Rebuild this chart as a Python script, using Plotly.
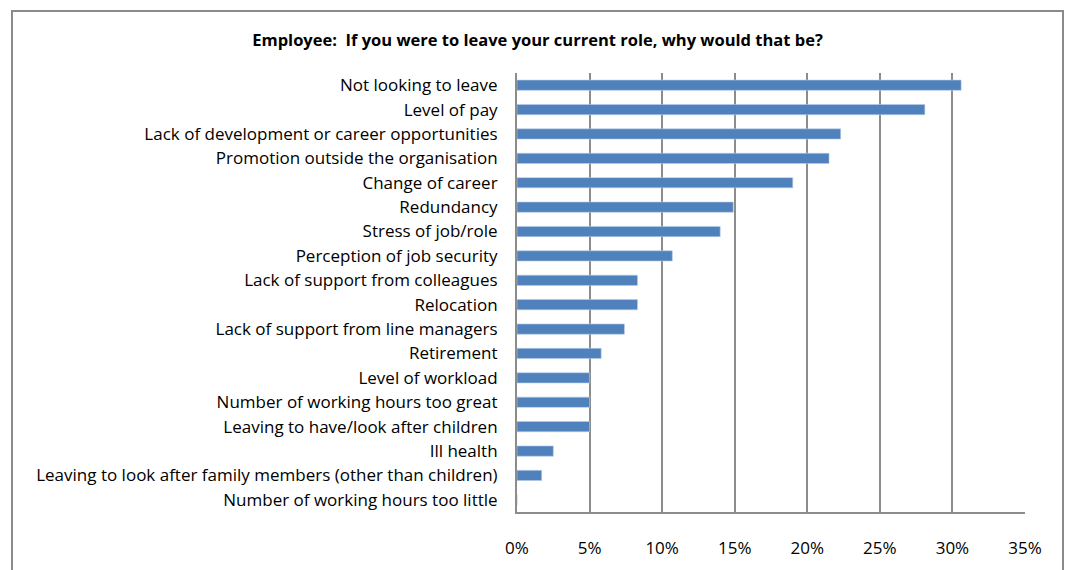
import plotly.graph_objects as go

# Survey responses (share of employees), listed top to bottom
reasons = [
    "Not looking to leave",
    "Level of pay",
    "Lack of development or career opportunities",
    "Promotion outside the organisation",
    "Change of career",
    "Redundancy",
    "Stress of job/role",
    "Perception of job security",
    "Lack of support from colleagues",
    "Relocation",
    "Lack of support from line managers",
    "Retirement",
    "Level of workload",
    "Number of working hours too great",
    "Leaving to have/look after children",
    "Ill health",
    "Leaving to look after family members (other than children)",
    "Number of working hours too little",
]
shares = [
    0.306, 0.281, 0.223, 0.215, 0.190, 0.149, 0.140, 0.107, 0.083,
    0.083, 0.074, 0.058, 0.050, 0.050, 0.050, 0.025, 0.017, 0.0,
]
x_ticks = [0, 0.05, 0.10, 0.15, 0.20, 0.25, 0.30, 0.35]
x_tick_text = ["0%", "5%", "10%", "15%", "20%", "25%", "30%", "35%"]

FONT = "'Open Sans', Lato, sans-serif"
GRID = "#8c8c8c"

fig = go.Figure(
    go.Bar(
        x=shares,
        y=reasons,
        orientation="h",
        marker=dict(color="#4f81bd", line=dict(color="#b9cde5", width=0.6)),
        hoverinfo="x+y",
    )
)

# Outer chart frame
W, H = 1068, 570
L, R, T, B = 517, 43, 73, 58
pw, ph = W - L - R, H - T - B


def px_x(p):
    return (p - L) / pw


def px_y(p):
    return (H - B - p) / ph


fig.add_shape(
    type="rect", xref="paper", yref="paper",
    x0=px_x(12), x1=px_x(1063), y0=px_y(580), y1=px_y(11),
    line=dict(color="#8a8a8a", width=2), fillcolor="rgba(0,0,0,0)", layer="below",
)

fig.update_layout(
    width=W,
    height=H,
    margin=dict(l=L, r=R, t=T, b=B),
    paper_bgcolor="white",
    plot_bgcolor="white",
    showlegend=False,
    bargap=0.58,
    title=dict(
        text="<b>Employee:  If you were to leave your current role, why would that be?</b>",
        x=(12 + 1063) / 2 / W,
        xanchor="center",
        y=1 - 40 / H,
        yanchor="middle",
        font=dict(family=FONT, size=16.5, color="#000000"),
    ),
    font=dict(family=FONT, size=17, color="#000000"),
)

fig.update_xaxes(
    range=[0, 0.35],
    tickvals=x_ticks,
    ticktext=x_tick_text,
    showgrid=True,
    gridcolor=GRID,
    gridwidth=1.5,
    showline=True,
    linecolor=GRID,
    linewidth=2,
    mirror=False,
    zeroline=False,
    ticks="",
    ticklabelstandoff=20,
    tickfont=dict(family=FONT, size=17),
    fixedrange=True,
)
fig.update_yaxes(
    categoryorder="array",
    categoryarray=reasons,
    autorange="reversed",
    showgrid=False,
    showline=True,
    linecolor=GRID,
    linewidth=2,
    ticks="",
    ticklabelstandoff=14,
    tickfont=dict(family=FONT, size=17),
    fixedrange=True,
)

fig.write_html("out.html")
